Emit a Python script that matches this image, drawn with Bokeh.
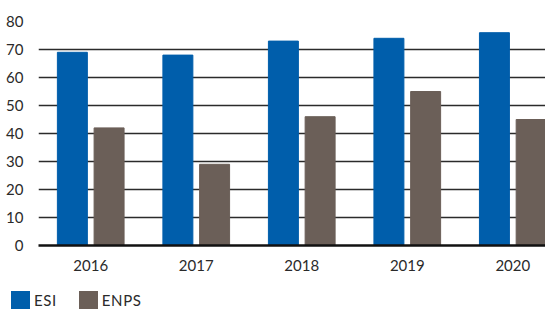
from bokeh.plotting import figure
from bokeh.models import FixedTicker, ColumnDataSource, Div
from bokeh.layouts import column
from bokeh.embed import file_html
from bokeh.resources import INLINE

years = ["2016", "2017", "2018", "2019", "2020"]
esi = [69, 68, 73, 74, 76]
enps = [42, 29, 46, 55, 45]
y_ticks = [0, 10, 20, 30, 40, 50, 60, 70, 80]
series_names = ["ESI", "ENPS"]

ESI_COLOR = "#005EAB"
ENPS_COLOR = "#6B5F58"
FONT = "Lato"
TEXT_COLOR = "#2a2a2a"

xs = list(range(len(years)))
src = ColumnDataSource(dict(
    x_esi=[x - 0.174 for x in xs],
    x_enps=[x + 0.174 for x in xs],
    esi=esi, enps=enps,
))

p = figure(width=545, height=288, output_backend="svg", toolbar_location=None,
           x_range=(-0.495, 4.31), y_range=(0, 80),
           min_border_top=21, min_border_right=0, min_border_left=38,
           min_border_bottom=43)
p.outline_line_color = None

p.vbar(x="x_esi", top="esi", width=0.284, source=src, color=ESI_COLOR)
p.vbar(x="x_enps", top="enps", width=0.284, source=src, color=ENPS_COLOR)

p.xgrid.grid_line_color = None
p.ygrid.ticker = FixedTicker(ticks=y_ticks[1:])
p.ygrid.grid_line_color = "#2b2b2b"
p.ygrid.grid_line_width = 1.6

p.yaxis.ticker = FixedTicker(ticks=y_ticks)
p.yaxis.axis_line_color = None
p.yaxis.major_tick_line_color = None
p.yaxis.minor_tick_line_color = None
p.yaxis.major_label_text_font = FONT
p.yaxis.major_label_text_font_size = "15px"
p.yaxis.major_label_text_color = TEXT_COLOR
p.yaxis.major_label_standoff = 9

p.xaxis.ticker = FixedTicker(ticks=xs)
p.xaxis.major_label_overrides = {i: y for i, y in zip(xs, years)}
p.xaxis.axis_line_color = "#111111"
p.xaxis.axis_line_width = 2.5
p.xaxis.major_tick_line_color = None
p.xaxis.minor_tick_line_color = None
p.xaxis.major_label_text_font = FONT
p.xaxis.major_label_text_font_size = "15px"
p.xaxis.major_label_text_color = TEXT_COLOR
p.xaxis.major_label_standoff = 8

# legend strip (HTML)
items_html = ""
for i, (name, col) in enumerate(zip(series_names, [ESI_COLOR, ENPS_COLOR])):
    ml = 11 if i == 0 else 22
    items_html += (
        f'<span style="display:inline-block;width:19px;height:18px;'
        f'background:{col};margin-left:{ml}px;vertical-align:middle"></span>'
        f'<span style="margin-left:4px;vertical-align:middle;letter-spacing:0.6px">{name}</span>'
    )
legend_div = Div(
    text=f'<div style="font-family:Lato;font-size:15px;color:{TEXT_COLOR};'
         f'line-height:18px;white-space:nowrap;margin-top:1px">{items_html}</div>',
    width=545, height=20, margin=(0, 0, 0, 0),
)

layout = column(p, legend_div, spacing=0)
open("out.html", "w").write(file_html(layout, INLINE))
